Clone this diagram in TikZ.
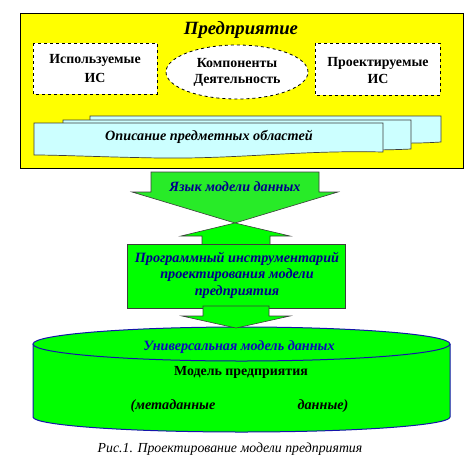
\documentclass[tikz,border=0pt]{standalone}
\usepackage{fontspec}
\setmainfont{Liberation Serif}
\usetikzlibrary{shapes.geometric}
\definecolor{yel}{RGB}{255,255,0}
\definecolor{pagec}{RGB}{204,255,255}
\definecolor{grn}{RGB}{0,255,0}
\definecolor{agrn}{RGB}{40,235,40}
\definecolor{dblue}{RGB}{0,0,140}
\definecolor{mblue}{RGB}{10,10,190}
\definecolor{cylline}{RGB}{20,20,170}
\definecolor{edge}{RGB}{60,60,60}
\tikzset{
  dbox/.style={draw=black,dashed,fill=white,line width=0.8pt},
  pagebox/.style={draw=edge,fill=pagec,line width=0.7pt},
  arrowshape/.style={draw=edge,fill=agrn,line width=0.6pt},
  toolbox/.style={draw=edge,fill=grn,line width=0.8pt},
  lbl/.style={inner sep=0pt,align=center,font=\fontsize{13.9}{18}\selectfont\bfseries},
  ilbl/.style={inner sep=0pt,align=center,font=\fontsize{14.2}{16.5}\selectfont\bfseries\itshape},
}
\begin{document}
\begin{tikzpicture}[x=1pt,y=-1pt]
\useasboundingbox (0,0) rectangle (474,464);
% enterprise frame
\draw[fill=yel,draw=black,line width=0.8pt] (20,13) rectangle (463,168);
\node[inner sep=0pt,font=\fontsize{18.7}{22}\selectfont\bfseries\itshape] (title) at (241,30) {Предприятие};
\draw[dbox] (33,43) rectangle (157,94);
\node[lbl,font=\fontsize{13.9}{19}\selectfont\bfseries] (used) at (95,69) {Используемые\\ИС};
\node[dbox,ellipse,minimum width=142pt,minimum height=54pt,inner sep=0pt] (comp) at (237,72) {};
\node[lbl,font=\fontsize{13.9}{16}\selectfont\bfseries] at (comp) {Компоненты\\Деятельность};
\draw[dbox] (315,43) rectangle (440,95);
\node[lbl,font=\fontsize{13.9}{17}\selectfont\bfseries] (designed) at (378,71) {Проектируемые\\ИС};
% pages
\draw[pagebox] (90,116) -- (441,116) -- (441,142) .. controls (380,146) and (330,138) .. (270,141) -- (90,143) -- cycle;
\draw[pagebox] (63,120) -- (411,120) -- (411,149) .. controls (330,153) and (250,143) .. (160,147) .. controls (120,149) and (90,150) .. (63,150) -- cycle;
\draw[pagebox] (34,123) -- (383,123) -- (383,152) .. controls (300,150) and (240,159) .. (160,158) .. controls (100,157) and (60,155) .. (34,155) -- cycle;
\node[ilbl] (desc) at (209,137) {Описание предметных областей};
% arrow 1 down
\draw[arrowshape] (151,172) -- (319,172) -- (319,192) -- (338,192) -- (235,223) -- (132,192) -- (151,192) -- cycle;
\node[ilbl,text=dblue] (lang) at (235,187) {Язык модели данных};
% arrow 2 up
\draw[arrowshape,fill=grn] (235,223) -- (290,236) -- (270,236) -- (270,246) -- (202,246) -- (202,236) -- (181,236) -- cycle;
% tool box
\draw[toolbox] (127,244) rectangle (345,308);
\node[ilbl,text=dblue] (tool) at (237,275) {Программный инструментарий\\проектирования модели\\предприятия};
% cylinder
\coordinate (ctop) at (241.5,344);
\coordinate (cbot) at (241.5,417);
\fill[grn] (33,344) -- (33,417) arc[start angle=180,end angle=0,x radius=208.5pt,y radius=-15pt] -- (450,344) -- cycle;
\draw[cylline,line width=1pt] (33,344) -- (33,417) arc[start angle=180,end angle=0,x radius=208.5pt,y radius=-15pt] -- (450,344);
\draw[cylline,fill=grn,line width=1pt] (ctop) ellipse[x radius=208.5pt,y radius=17pt];
% arrow 3 down
\draw[arrowshape,fill=grn] (203,306) -- (269,306) -- (269,316) -- (290,316) -- (236,328) -- (182,316) -- (203,316) -- cycle;
\node[ilbl,text=mblue] (univ) at (239,347) {Универсальная модель данных};
\node[lbl] (model) at (241,372) {Модель предприятия};
\node[ilbl] (meta) at (173,406) {(метаданные};
\node[ilbl] (data) at (323,406) {данные)};
% caption
\node[inner sep=0pt,font=\fontsize{13.8}{16}\selectfont\itshape] (cap) at (230,449) {Рис.1. Проектирование модели предприятия};
\end{tikzpicture}
\end{document}
